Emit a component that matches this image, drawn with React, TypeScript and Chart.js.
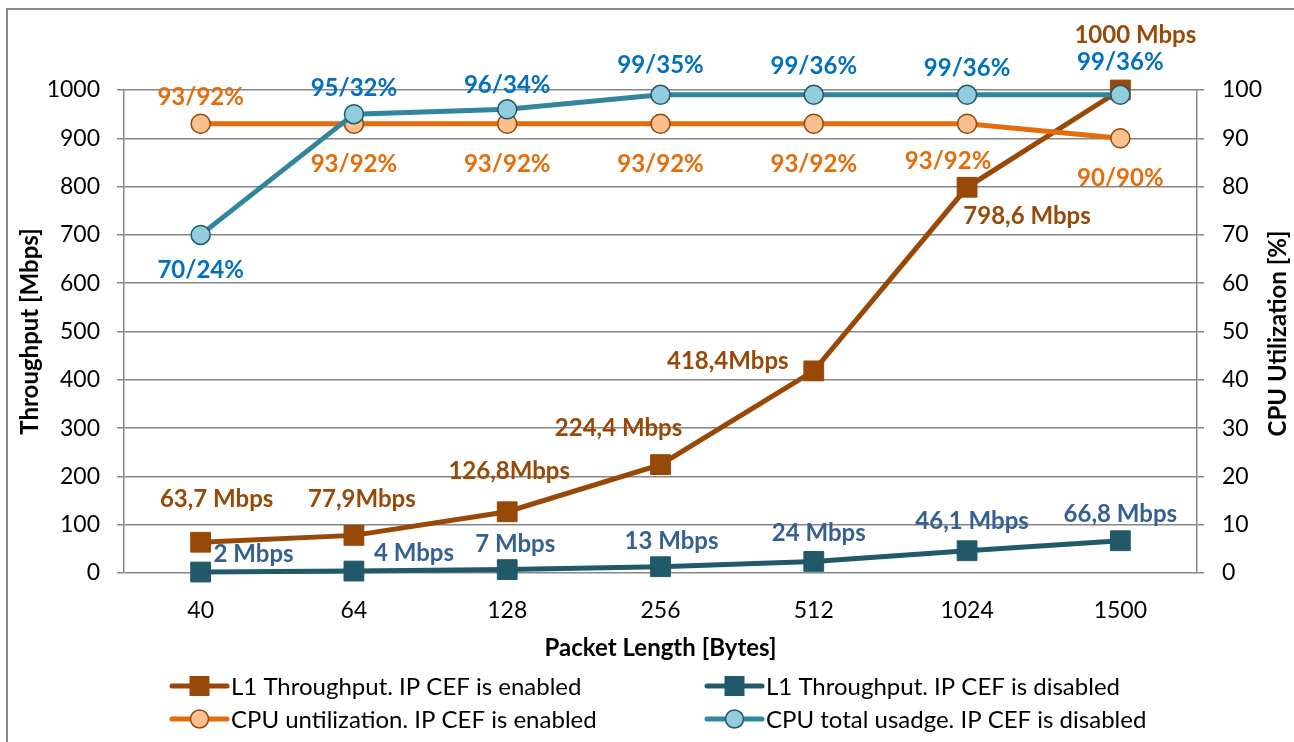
import React, { useEffect, useRef } from 'react';
import { Chart, registerables } from 'chart.js';

Chart.register(...registerables);

// ---- data ----
const categories = ['40', '64', '128', '256', '512', '1024', '1500'];
const l1Enabled = [63.7, 77.9, 126.8, 224.4, 418.4, 798.6, 1000];
const l1Disabled = [2, 4, 7, 13, 24, 46.1, 66.8];
const cpuEnabled = [93, 93, 93, 93, 93, 93, 90];
const cpuDisabled = [70, 95, 96, 99, 99, 99, 99];

const l1EnabledLabels = ['63,7 Mbps', '77,9Mbps', '126,8Mbps', '224,4 Mbps', '418,4Mbps', '798,6 Mbps', '1000 Mbps'];
const l1DisabledLabels = ['2 Mbps', '4 Mbps', '7 Mbps', '13 Mbps', '24 Mbps', '46,1 Mbps', '66,8 Mbps'];
const cpuEnabledLabels = ['93/92%', '93/92%', '93/92%', '93/92%', '93/92%', '93/92%', '90/90%'];
const cpuDisabledLabels = ['70/24%', '95/32%', '96/34%', '99/35%', '99/36%', '99/36%', '99/36%'];

const seriesNames = [
  'L1 Throughput. IP CEF is enabled',
  'L1 Throughput. IP CEF is disabled',
  'CPU untilization. IP CEF is enabled',
  'CPU total usadge. IP CEF is disabled',
];

const leftTitle = 'Throughput [Mbps]';
const rightTitle = 'CPU Utilization [%]';
const bottomTitle = 'Packet Length [Bytes]';

// ---- style ----
const FONT = 'Lato, "Open Sans", sans-serif';
const GRID = '#868686';
const C_BROWN = '#984807';
const C_DTEAL = '#215968';
const C_ORANGE = '#E46C0A';
const C_TEAL = '#31859C';
const F_ORANGE = '#FAC090';
const F_TEAL = '#93CDDD';
const L_BLUE_DARK = '#376092';
const L_BLUE = '#0070C0';

// label offsets relative to each point (style, not data)
const labelStyles = [
  { texts: l1EnabledLabels, color: C_BROWN, off: [[16, -43], [8, -36], [2, -40], [-42, -36], [-86, -10], [60, 29], [15, -55]] },
  { texts: l1DisabledLabels, color: L_BLUE_DARK, off: [[53, -18], [60, -18], [8, -25], [11, -25], [5, -28], [5, -29], [0, -26]] },
  { texts: cpuEnabledLabels, color: C_ORANGE, off: [[0, -27], [0, 40], [0, 40], [0, 40], [0, 40], [-19, 37], [0, 40]] },
  { texts: cpuDisabledLabels, color: L_BLUE, off: [[0, 35], [0, -26], [0, -24], [0, -30], [0, -29], [0, -27], [0, -33]] },
];

const legendItems = [
  { line: C_BROWN, marker: 'rect', fill: C_BROWN, border: C_BROWN, col: 0, row: 0 },
  { line: C_DTEAL, marker: 'rect', fill: C_DTEAL, border: C_DTEAL, col: 1, row: 0 },
  { line: C_ORANGE, marker: 'circle', fill: F_ORANGE, border: C_BROWN, col: 0, row: 1 },
  { line: C_TEAL, marker: 'circle', fill: F_TEAL, border: C_DTEAL, col: 1, row: 1 },
];

const overlay = {
  id: 'overlay',
  beforeDraw(chart: any) {
    const ctx = chart.ctx;
    ctx.save();
    ctx.fillStyle = '#ffffff';
    ctx.fillRect(0, 0, chart.width, chart.height);
    ctx.strokeStyle = '#898989';
    ctx.lineWidth = 2;
    ctx.beginPath();
    ctx.moveTo(7, chart.height);
    ctx.lineTo(7, 9);
    ctx.lineTo(chart.width, 9);
    ctx.stroke();
    ctx.restore();
  },
  afterDatasetsDraw(chart: any) {
    const ctx = chart.ctx;
    ctx.save();
    ctx.font = `bold 24px ${FONT}`;
    ctx.textAlign = 'center';
    ctx.textBaseline = 'middle';
    labelStyles.forEach((ls, di) => {
      const meta = chart.getDatasetMeta(di);
      ctx.fillStyle = ls.color;
      meta.data.forEach((pt: any, i: number) => {
        ctx.fillText(ls.texts[i], pt.x + ls.off[i][0], pt.y + ls.off[i][1]);
      });
    });
    ctx.restore();
  },
  afterDraw(chart: any) {
    const ctx = chart.ctx;
    const ca = chart.chartArea;
    const cy = (ca.top + ca.bottom) / 2;
    ctx.save();
    ctx.fillStyle = '#000';
    ctx.font = `bold 24px ${FONT}`;
    ctx.textAlign = 'center';
    ctx.textBaseline = 'middle';
    // left title
    ctx.save();
    ctx.translate(30, cy);
    ctx.rotate(-Math.PI / 2);
    ctx.fillText(leftTitle, 0, 0);
    ctx.restore();
    // right title
    ctx.save();
    ctx.translate(1278, cy + 2);
    ctx.rotate(-Math.PI / 2);
    ctx.fillText(rightTitle, 0, 0);
    ctx.restore();
    // bottom title
    ctx.fillText(bottomTitle, (ca.left + ca.right) / 2, 648);

    // legend
    const colX = [172, 707];
    const rowY = [686, 719];
    ctx.font = `24px ${FONT}`;
    ctx.textAlign = 'left';
    legendItems.forEach((it, i) => {
      const x0 = colX[it.col];
      const y = rowY[it.row];
      ctx.strokeStyle = it.line;
      ctx.lineWidth = 5;
      ctx.lineCap = 'round';
      ctx.beginPath();
      ctx.moveTo(x0, y);
      ctx.lineTo(x0 + 55, y);
      ctx.stroke();
      const mx = x0 + 27.5;
      if (it.marker === 'rect') {
        ctx.fillStyle = it.fill;
        ctx.fillRect(mx - 10, y - 10, 20, 20);
      } else {
        ctx.fillStyle = it.fill;
        ctx.strokeStyle = it.border;
        ctx.lineWidth = 1.5;
        ctx.beginPath();
        ctx.arc(mx, y, 9, 0, Math.PI * 2);
        ctx.fill();
        ctx.stroke();
      }
      ctx.fillStyle = '#000';
      ctx.fillText(seriesNames[i], x0 + 59, y + 1);
    });
    ctx.restore();
  },
};

export default function App() {
  const ref = useRef<HTMLCanvasElement>(null);
  useEffect(() => {
    let chart: Chart | null = null;
    let cancelled = false;
    const build = () => {
      if (cancelled || !ref.current) return;
      const tickFont = { family: FONT, size: 23 };
      chart = new Chart(ref.current, {
        type: 'line',
        data: {
          labels: categories,
          datasets: [
            {
              label: seriesNames[0], data: l1Enabled, yAxisID: 'y', order: 3,
              borderColor: C_BROWN, borderWidth: 5, pointStyle: 'rect', pointRadius: 14,
              pointBackgroundColor: C_BROWN, pointBorderColor: C_BROWN, pointBorderWidth: 1, clip: false,
            },
            {
              label: seriesNames[1], data: l1Disabled, yAxisID: 'y', order: 2,
              borderColor: C_DTEAL, borderWidth: 5, pointStyle: 'rect', pointRadius: 14,
              pointBackgroundColor: C_DTEAL, pointBorderColor: C_DTEAL, pointBorderWidth: 1, clip: false,
            },
            {
              label: seriesNames[2], data: cpuEnabled, yAxisID: 'y1', order: 1,
              borderColor: C_ORANGE, borderWidth: 5, pointStyle: 'circle', pointRadius: 9.5,
              pointBackgroundColor: F_ORANGE, pointBorderColor: C_BROWN, pointBorderWidth: 1.5, clip: false,
            },
            {
              label: seriesNames[3], data: cpuDisabled, yAxisID: 'y1', order: 0,
              borderColor: C_TEAL, borderWidth: 5, pointStyle: 'circle', pointRadius: 9.5,
              pointBackgroundColor: F_TEAL, pointBorderColor: C_DTEAL, pointBorderWidth: 1.5, clip: false,
            },
          ] as any,
        },
        options: {
          responsive: false,
          animation: false,
          layout: { padding: { left: 10, right: 6, top: 90, bottom: 77 } },
          plugins: { legend: { display: false }, tooltip: { enabled: false } },
          elements: { line: { tension: 0 } },
          scales: {
            x: {
              type: 'category',
              offset: true,
              grid: { display: false, drawTicks: false },
              border: { display: false },
              ticks: { font: tickFont, color: '#000', padding: 24, maxRotation: 0 },
              afterFit: (s: any) => { s.height = 92; },
            },
            y: {
              position: 'left',
              min: 0, max: 1000,
              ticks: { stepSize: 100, font: tickFont, color: '#000', padding: 17, callback: (v: any) => String(v) },
              grid: { color: GRID, lineWidth: 1.5, tickLength: 7, drawTicks: true },
              border: { color: GRID, width: 1.5 },
              afterFit: (s: any) => { s.width = 114; },
            },
            y1: {
              position: 'right',
              min: 0, max: 100,
              ticks: { stepSize: 10, font: tickFont, color: '#000', padding: 18, callback: (v: any) => String(v) },
              grid: { color: GRID, lineWidth: 1.5, tickLength: 7, drawOnChartArea: false, drawTicks: true },
              border: { color: GRID, width: 1.5 },
              afterFit: (s: any) => { s.width = 91; },
            },
          },
        } as any,
        plugins: [overlay],
      });
    };
    const fonts = (document as any).fonts;
    if (fonts && fonts.load) {
      Promise.all([fonts.load(`23px Lato`), fonts.load(`bold 23px Lato`)]).then(build, build);
    } else {
      build();
    }
    return () => {
      cancelled = true;
      if (chart) chart.destroy();
    };
  }, []);
  return (
    <div style={{ position: 'absolute', left: 0, top: 0, width: 1294, height: 742, background: '#fff' }}>
      <canvas ref={ref} width={1294} height={742} style={{ display: 'block' }} />
    </div>
  );
}
